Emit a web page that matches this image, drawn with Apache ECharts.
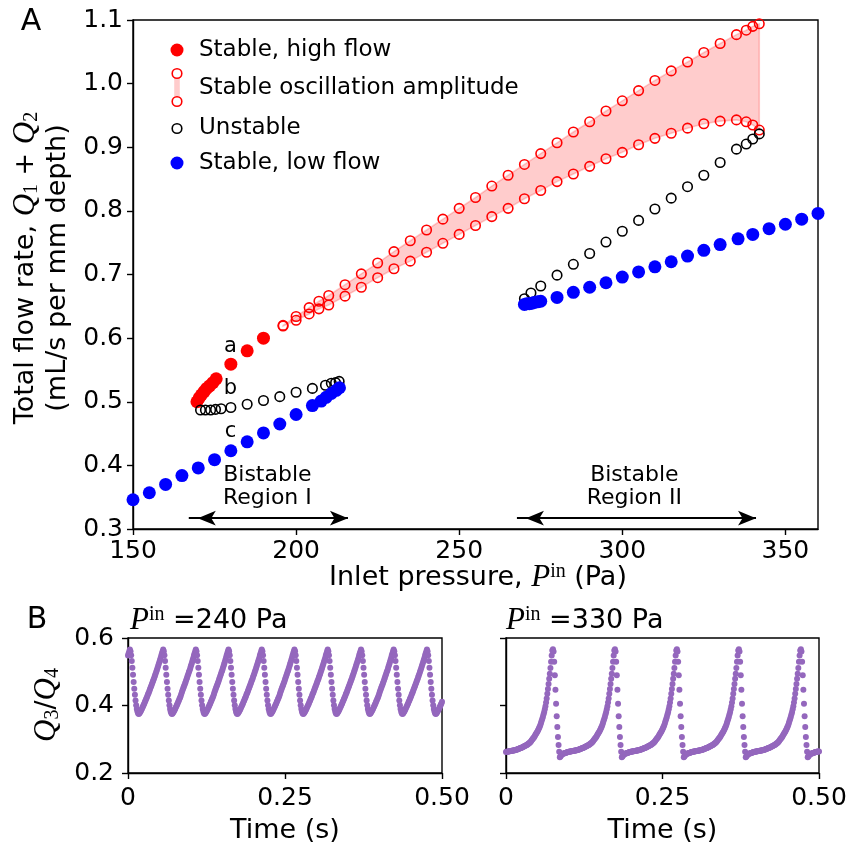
<!DOCTYPE html>
<html>
<head>
<meta charset="utf-8">
<script src="https://cdn.jsdelivr.net/npm/echarts@6/dist/echarts.min.js"></script>
<style>
  html, body { margin: 0; padding: 0; background: #fff; }
  #chart { width: 850px; height: 848px; }
</style>
</head>
<body>
<div id="chart"></div>
<script>
// ---------- Panel A: total flow rate vs inlet pressure ----------
// Stable, high flow (filled red)
const highFlowP = [169.6, 170.3, 171.0, 171.8, 172.6, 173.5, 174.5, 175.5, 180, 185, 190];
const highFlowQ = [0.500, 0.506, 0.511, 0.516, 0.521, 0.525, 0.530, 0.536, 0.559, 0.580, 0.600];

// Stable oscillation amplitude (open red, upper and lower branch)
const oscP     = [196, 200, 204, 207, 210, 215, 220, 225, 230, 235, 240, 245, 250, 255, 260, 265, 270, 275, 280, 285, 290, 295, 300, 305, 310, 315, 320, 325, 330, 335, 338, 340, 342];
const oscUpper = [0.620, 0.634, 0.648, 0.658, 0.667, 0.684, 0.701, 0.718, 0.736, 0.753, 0.770, 0.787, 0.804, 0.821, 0.839, 0.856, 0.873, 0.890, 0.907, 0.924, 0.940, 0.957, 0.973, 0.989, 1.005, 1.020, 1.034, 1.049, 1.063, 1.077, 1.084, 1.090, 1.094];
const oscLower = [0.619, 0.628, 0.638, 0.646, 0.652, 0.666, 0.680, 0.695, 0.709, 0.721, 0.735, 0.749, 0.763, 0.777, 0.791, 0.804, 0.819, 0.832, 0.846, 0.858, 0.870, 0.882, 0.892, 0.904, 0.914, 0.922, 0.930, 0.937, 0.941, 0.943, 0.940, 0.935, 0.927];

// Unstable (open black)
const unstableP = [170.7, 172.2, 173.8, 175.3, 177.0, 180, 185, 190, 195, 200, 205, 209, 210.8, 212.1, 213.2,
                   270, 272, 275, 280, 285, 290, 295, 300, 305, 310, 315, 320, 325, 330, 335, 338, 340, 342];
const unstableQ = [0.487, 0.487, 0.487, 0.488, 0.489, 0.491, 0.496, 0.502, 0.508, 0.515, 0.521, 0.526, 0.529, 0.530, 0.532,
                   0.662, 0.671, 0.682, 0.699, 0.716, 0.733, 0.751, 0.768, 0.785, 0.803, 0.820, 0.838, 0.856, 0.876, 0.897, 0.905, 0.913, 0.921];

// Stable, low flow (filled blue)
const lowFlowP = [150, 155, 160, 165, 170, 175, 180, 185, 190, 195, 200, 205, 207.7, 209.2, 210.8, 212.3, 213.3,
                  270, 270.7, 271.5, 272.3, 273, 274, 275, 280, 285, 290, 295, 300, 305, 310, 315, 320, 325, 330, 335.5, 340, 345, 350, 355, 360];
const lowFlowQ = [0.346, 0.357, 0.370, 0.384, 0.396, 0.409, 0.423, 0.437, 0.451, 0.465, 0.480, 0.494, 0.501, 0.507, 0.513, 0.518, 0.522,
                  0.653, 0.654, 0.654, 0.655, 0.656, 0.657, 0.658, 0.664, 0.672, 0.680, 0.687, 0.696, 0.704, 0.712, 0.720, 0.729, 0.738, 0.747, 0.756, 0.763, 0.772, 0.779, 0.787, 0.796];

// Point annotations a / b / c
const pointTags = ['a', 'b', 'c'];
const pointTagP = [179.9, 179.9, 179.9];
const pointTagQ = [0.586, 0.520, 0.453];

// Bistable regions: text and arrow extent
const regionNames = ['Bistable\nRegion I', 'Bistable\nRegion II'];
const regionTextP = [191.2, 303.7];
const regionTextQ = [0.366, 0.366];
const regionFrom  = [167.1, 267.7];
const regionTo    = [215.9, 341.0];
const regionArrowQ = 0.317;

const xTicksA = [150, 200, 250, 300, 350];
const yTicksA = [0.3, 0.4, 0.5, 0.6, 0.7, 0.8, 0.9, 1.0, 1.1];

// ---------- Panel B: Q3/Q4 time traces, one sample per millisecond ----------
const sampleStep = 0.001;
const ratio240 = [
  0.548,0.554,0.560,
  0.566,0.561,0.549,0.532,0.512,0.491,0.470,0.450,0.432,0.415,0.401,0.390,0.382,0.377,0.375,0.376,0.379,0.382,0.386,0.390,0.394,0.398,0.402,0.406,0.411,0.415,0.420,0.424,0.429,0.434,0.438,0.443,0.448,0.453,0.458,0.463,0.468,0.473,0.478,0.484,0.489,0.494,0.500,0.505,0.511,0.517,0.523,0.529,0.535,0.541,0.548,0.554,0.560,
  0.566,0.561,0.549,0.532,0.512,0.491,0.470,0.450,0.432,0.415,0.401,0.390,0.382,0.377,0.375,0.376,0.379,0.382,0.386,0.390,0.394,0.398,0.402,0.406,0.411,0.415,0.420,0.424,0.429,0.435,0.441,0.446,0.451,0.456,0.461,0.466,0.471,0.477,0.482,0.488,0.493,0.499,0.504,0.510,0.516,0.522,0.528,0.535,0.541,0.548,0.554,0.560,
  0.566,0.561,0.549,0.532,0.512,0.491,0.470,0.450,0.432,0.415,0.401,0.390,0.382,0.377,0.375,0.376,0.379,0.382,0.386,0.390,0.394,0.398,0.402,0.406,0.411,0.415,0.420,0.424,0.429,0.435,0.441,0.446,0.451,0.456,0.461,0.466,0.471,0.477,0.482,0.488,0.493,0.499,0.504,0.510,0.516,0.522,0.528,0.535,0.541,0.548,0.554,0.560,
  0.566,0.561,0.549,0.532,0.512,0.491,0.470,0.450,0.432,0.415,0.401,0.390,0.382,0.377,0.375,0.376,0.379,0.382,0.386,0.390,0.394,0.398,0.402,0.406,0.411,0.415,0.420,0.424,0.429,0.434,0.438,0.443,0.448,0.453,0.458,0.463,0.468,0.473,0.478,0.484,0.489,0.494,0.500,0.505,0.511,0.517,0.523,0.529,0.535,0.541,0.548,0.554,0.560,
  0.566,0.561,0.549,0.532,0.512,0.491,0.470,0.450,0.432,0.415,0.401,0.390,0.382,0.377,0.375,0.376,0.379,0.382,0.386,0.390,0.394,0.398,0.402,0.406,0.411,0.415,0.420,0.424,0.429,0.435,0.441,0.446,0.451,0.456,0.461,0.466,0.471,0.477,0.482,0.488,0.493,0.499,0.504,0.510,0.516,0.522,0.528,0.535,0.541,0.548,0.554,0.560,
  0.566,0.561,0.549,0.532,0.512,0.491,0.470,0.450,0.432,0.415,0.401,0.390,0.382,0.377,0.375,0.376,0.379,0.382,0.386,0.390,0.394,0.398,0.402,0.406,0.411,0.415,0.420,0.424,0.429,0.434,0.438,0.443,0.448,0.453,0.458,0.463,0.468,0.473,0.478,0.484,0.489,0.494,0.500,0.505,0.511,0.517,0.523,0.529,0.535,0.541,0.548,0.554,0.560,
  0.566,0.561,0.549,0.532,0.512,0.491,0.470,0.450,0.432,0.415,0.401,0.390,0.382,0.377,0.375,0.376,0.379,0.382,0.386,0.390,0.394,0.398,0.402,0.406,0.411,0.415,0.420,0.424,0.429,0.434,0.438,0.443,0.448,0.453,0.458,0.463,0.468,0.473,0.478,0.484,0.489,0.494,0.500,0.505,0.511,0.517,0.523,0.529,0.535,0.541,0.548,0.554,0.560,
  0.566,0.561,0.549,0.532,0.512,0.491,0.470,0.450,0.432,0.415,0.401,0.390,0.382,0.377,0.375,0.376,0.379,0.382,0.386,0.390,0.394,0.398,0.402,0.406,0.411,0.415,0.420,0.424,0.429,0.435,0.441,0.446,0.451,0.456,0.461,0.466,0.471,0.477,0.482,0.488,0.493,0.499,0.504,0.510,0.516,0.522,0.528,0.535,0.541,0.548,0.554,0.560,
  0.566,0.561,0.549,0.532,0.512,0.491,0.470,0.450,0.432,0.415,0.401,0.390,0.382,0.377,0.375,0.376,0.379,0.382,0.386,0.390,0.394,0.398,0.402,0.406,0.411,0.415,0.420,0.424,0.429,0.434,0.438,0.443,0.448,0.453,0.458,0.463,0.468,0.473,0.478,0.484,0.489,0.494,0.500,0.505,0.511,0.517,0.523,0.529,0.535,0.541,0.548,0.554,0.560,
  0.566,0.561,0.549,0.532,0.512,0.491,0.470,0.450,0.432,0.415,0.401,0.390,0.382,0.377,0.375,0.376,0.379,0.382,0.386,0.390,0.394,0.398,0.402,0.406,0.411
];
const ratio330 = [
  0.262,0.263,0.263,0.264,0.264,0.264,0.265,
  0.265,0.265,0.266,0.266,0.267,0.267,0.267,0.268,0.268,0.269,0.269,0.270,0.271,0.271,0.272,0.273,0.274,0.274,0.275,0.276,
  0.277,0.278,0.279,0.280,0.281,0.282,0.283,0.284,0.286,0.287,0.289,0.290,0.292,0.294,0.297,0.299,0.302,0.304,0.307,0.310,
  0.313,0.316,0.319,0.322,0.326,0.330,0.334,0.338,0.343,0.349,0.355,0.361,0.367,0.374,0.381,0.389,0.398,0.409,0.421,0.435,
  0.449,0.464,0.479,0.494,0.511,0.530,0.548,0.563,0.567,0.560,0.530,0.490,0.447,0.405,0.368,0.336,0.307,0.283,0.263,
  0.247,0.249,0.252,0.254,0.256,0.257,0.258,0.258,0.259,0.259,0.260,0.261,0.262,0.262,0.263,0.263,0.264,0.264,0.264,0.265,
  0.265,0.265,0.266,0.266,0.267,0.267,0.267,0.268,0.268,0.269,0.269,0.270,0.271,0.271,0.272,0.273,0.274,0.274,0.275,0.276,
  0.277,0.278,0.279,0.280,0.281,0.282,0.283,0.284,0.286,0.287,0.289,0.290,0.292,0.294,0.297,0.299,0.302,0.304,0.307,0.310,
  0.313,0.316,0.319,0.322,0.326,0.330,0.334,0.338,0.343,0.349,0.355,0.361,0.367,0.374,0.381,0.389,0.398,0.409,0.421,0.435,
  0.449,0.464,0.479,0.494,0.511,0.530,0.548,0.563,0.567,0.560,0.530,0.490,0.447,0.405,0.368,0.336,0.307,0.283,0.263,
  0.247,0.249,0.252,0.254,0.256,0.257,0.258,0.258,0.259,0.259,0.260,0.261,0.262,0.262,0.263,0.263,0.264,0.264,0.264,0.265,
  0.265,0.265,0.266,0.266,0.267,0.267,0.267,0.268,0.268,0.269,0.269,0.270,0.271,0.271,0.272,0.273,0.274,0.274,0.275,0.276,
  0.277,0.278,0.279,0.280,0.281,0.282,0.283,0.284,0.286,0.287,0.289,0.290,0.292,0.294,0.297,0.299,0.302,0.304,0.307,0.310,
  0.313,0.316,0.319,0.322,0.326,0.330,0.334,0.338,0.343,0.349,0.355,0.361,0.367,0.374,0.381,0.389,0.398,0.409,0.421,0.435,
  0.449,0.464,0.479,0.494,0.511,0.530,0.548,0.563,0.567,0.560,0.530,0.490,0.447,0.405,0.368,0.336,0.307,0.283,0.263,
  0.247,0.249,0.252,0.254,0.256,0.257,0.258,0.258,0.259,0.259,0.260,0.261,0.262,0.262,0.263,0.263,0.264,0.264,0.264,0.265,
  0.265,0.265,0.266,0.266,0.267,0.267,0.267,0.268,0.268,0.269,0.269,0.270,0.271,0.271,0.272,0.273,0.274,0.274,0.275,0.276,
  0.277,0.278,0.279,0.280,0.281,0.282,0.283,0.284,0.286,0.287,0.289,0.290,0.292,0.294,0.297,0.299,0.302,0.304,0.307,0.310,
  0.313,0.316,0.319,0.322,0.326,0.330,0.334,0.338,0.343,0.349,0.355,0.361,0.367,0.374,0.381,0.389,0.398,0.409,0.421,0.435,
  0.449,0.464,0.479,0.494,0.511,0.530,0.548,0.563,0.567,0.560,0.530,0.490,0.447,0.405,0.368,0.336,0.307,0.283,0.263,
  0.247,0.249,0.252,0.254,0.256,0.257,0.258,0.258,0.259,0.259,0.260,0.261,0.262,0.262,0.263,0.263,0.264,0.264,0.264,0.265,
  0.265,0.265,0.266,0.266,0.267,0.267,0.267,0.268,0.268,0.269,0.269,0.270,0.271,0.271,0.272,0.273,0.274,0.274,0.275,0.276,
  0.277,0.278,0.279,0.280,0.281,0.282,0.283,0.284,0.286,0.287,0.289,0.290,0.292,0.294,0.297,0.299,0.302,0.304,0.307,0.310,
  0.313,0.316,0.319,0.322,0.326,0.330,0.334,0.338,0.343,0.349,0.355,0.361,0.367,0.374,0.381,0.389,0.398,0.409,0.421,0.435,
  0.449,0.464,0.479,0.494,0.511,0.530,0.548,0.563,0.567,0.560,0.530,0.490,0.447,0.405,0.368,0.336,0.307,0.283,0.263,
  0.247,0.249,0.252,0.254,0.256,0.257,0.258,0.258,0.259,0.259,0.260,0.261,0.262,0.262,0.263,0.263,0.264,0.264,0.264
];
const xTicksB = [0, 0.25, 0.5];
const yTicksB = [0.2, 0.4, 0.6];
const panelBTitles = ['240 Pa', '330 Pa'];

// ---------- styling helpers ----------
const SANS = 'DejaVu Sans';
const SERIF = 'Liberation Serif';
const RED = '#ff0000';
const BLUE = '#0000ff';
const PURPLE = '#9467bd';
const FILL = 'rgba(255,0,0,0.2)';

const pairs = (xs, ys) => xs.map((x, i) => [x, ys[i]]);
const timeTrace = vals => vals.map((v, i) => [i * sampleStep, v]);

function valueAxis(gridIndex, min, max, ticks, fmt, labelMargin, showLabels) {
  return {
    type: 'value', gridIndex, min, max,
    axisLine: { show: true, onZero: false, lineStyle: { color: '#000', width: 1.4 } },
    axisTick: { show: true, length: 6, customValues: ticks, lineStyle: { color: '#000', width: 1.4 } },
    axisLabel: {
      show: showLabels !== false, customValues: ticks, formatter: fmt, margin: labelMargin,
      color: '#000', fontFamily: SANS, fontSize: 25
    },
    splitLine: { show: false }
  };
}
const gridBox = { show: true, borderColor: '#000', borderWidth: 1.4, backgroundColor: 'transparent' };

const chart = echarts.init(document.getElementById('chart'), null, { renderer: 'canvas' });

const mathRich = {
  it:  { fontFamily: SERIF, fontStyle: 'italic', fontSize: 31, lineHeight: 32, color: '#000' },
  sup: { fontFamily: SERIF, fontSize: 20, lineHeight: 19, verticalAlign: 'top', color: '#000' },
  sub: { fontFamily: SERIF, fontSize: 20, lineHeight: 19, verticalAlign: 'bottom', color: '#000' },
  n:   { fontFamily: SANS, fontSize: 27, lineHeight: 32, color: '#000' }
};

const legendItems = [
  { type: 'circle', shape: { cx: 177, cy: 50, r: 6.5 }, style: { fill: RED } },
  { type: 'rect', shape: { x: 174.2, y: 73.5, width: 5.6, height: 28 }, style: { fill: FILL } },
  { type: 'circle', shape: { cx: 177, cy: 73.5, r: 4.8 }, style: { fill: '#fff', stroke: RED, lineWidth: 1.6 } },
  { type: 'circle', shape: { cx: 177, cy: 101.5, r: 4.8 }, style: { fill: '#fff', stroke: RED, lineWidth: 1.6 } },
  { type: 'circle', shape: { cx: 177, cy: 128.5, r: 4.8 }, style: { fill: 'none', stroke: '#000', lineWidth: 1.6 } },
  { type: 'circle', shape: { cx: 177, cy: 163, r: 6.5 }, style: { fill: BLUE } },
  ...[['Stable, high flow', 50], ['Stable oscillation amplitude', 88], ['Unstable', 128.5], ['Stable, low flow', 163]]
    .map(([t, y]) => ({ type: 'text', x: 199, y, style: { text: t, fontFamily: SANS, fontSize: 23, fill: '#000', align: 'left', verticalAlign: 'middle' } }))
];

const textItems = [
  { type: 'text', x: 31, y: 22, style: { text: 'A', fontFamily: SANS, fontSize: 30, fill: '#000', align: 'center', verticalAlign: 'middle' } },
  { type: 'text', x: 37, y: 620, style: { text: 'B', fontFamily: SANS, fontSize: 30, fill: '#000', align: 'center', verticalAlign: 'middle' } },
  { type: 'text', x: 478, y: 578, style: {
      text: '{n|Inlet pressure, }{it|P}{sup|in}{n| (Pa)}', rich: mathRich,
      align: 'center', verticalAlign: 'middle' } },
  { type: 'text', x: 42, y: 268, rotation: Math.PI / 2, style: {
      text: '{n|Total flow rate, }{it|Q}{sub|1}{n| + }{it|Q}{sub|2}\n{n|(mL/s per mm depth)}', rich: mathRich,
      align: 'center', verticalAlign: 'middle' } },
  { type: 'text', x: 47, y: 705, rotation: Math.PI / 2, style: {
      text: '{it|Q}{sub|3}{n|/}{it|Q}{sub|4}', rich: mathRich,
      align: 'center', verticalAlign: 'middle' } },
  { type: 'text', x: 130, y: 621, style: {
      text: '{it|P}{sup|in}{n| =' + panelBTitles[0] + '}', rich: mathRich, align: 'left', verticalAlign: 'middle' } },
  { type: 'text', x: 506, y: 621, style: {
      text: '{it|P}{sup|in}{n| =' + panelBTitles[1] + '}', rich: mathRich, align: 'left', verticalAlign: 'middle' } },
  { type: 'text', x: 285, y: 831, style: { text: 'Time (s)', fontFamily: SANS, fontSize: 27, fill: '#000', align: 'center', verticalAlign: 'middle' } },
  { type: 'text', x: 662.5, y: 831, style: { text: 'Time (s)', fontFamily: SANS, fontSize: 27, fill: '#000', align: 'center', verticalAlign: 'middle' } }
];

const option = {
  animation: false,
  backgroundColor: '#fff',
  grid: [
    Object.assign({ left: 133, top: 20, width: 685, height: 509 }, gridBox),
    Object.assign({ left: 128, top: 638, width: 314, height: 135 }, gridBox),
    Object.assign({ left: 506, top: 638, width: 313, height: 135 }, gridBox)
  ],
  xAxis: [
    valueAxis(0, 150, 360, xTicksA, v => String(v), 10),
    valueAxis(1, 0, 0.5, xTicksB, v => (v === 0 ? '0' : v.toFixed(2)), 13),
    valueAxis(2, 0, 0.5, xTicksB, v => (v === 0 ? '0' : v.toFixed(2)), 13)
  ],
  yAxis: [
    valueAxis(0, 0.3, 1.1, yTicksA, v => v.toFixed(1), 10),
    valueAxis(1, 0.2, 0.6, yTicksB, v => v.toFixed(1), 14),
    valueAxis(2, 0.2, 0.6, yTicksB, v => v.toFixed(1), 14, false)
  ],
  graphic: legendItems.concat(textItems),
  series: [
    // shaded band between upper and lower oscillation branches
    {
      type: 'custom', xAxisIndex: 0, yAxisIndex: 0, silent: true, clip: true, z: 1,
      data: [[oscP[0], oscUpper[0]]],
      renderItem: (params, api) => {
        const pts = oscP.map((p, i) => api.coord([p, oscUpper[i]]));
        for (let i = oscP.length - 1; i >= 0; i--) pts.push(api.coord([oscP[i], oscLower[i]]));
        return { type: 'polygon', shape: { points: pts }, style: { fill: FILL, stroke: FILL, lineWidth: 1.6 } };
      }
    },
    {
      name: 'Stable, high flow', type: 'scatter', xAxisIndex: 0, yAxisIndex: 0, silent: true, z: 2,
      data: pairs(highFlowP, highFlowQ), symbolSize: 13, itemStyle: { color: RED, opacity: 1 }
    },
    {
      name: 'Stable oscillation amplitude', type: 'scatter', xAxisIndex: 0, yAxisIndex: 0, silent: true, z: 3,
      data: pairs(oscP, oscUpper).concat(pairs(oscP, oscLower)), symbolSize: 9.5,
      itemStyle: { color: 'rgba(0,0,0,0)', borderColor: RED, borderWidth: 1.6, opacity: 1 }
    },
    {
      name: 'Unstable', type: 'scatter', xAxisIndex: 0, yAxisIndex: 0, silent: true, z: 4,
      data: pairs(unstableP, unstableQ), symbolSize: 9.5,
      itemStyle: { color: 'rgba(0,0,0,0)', borderColor: '#000', borderWidth: 1.6, opacity: 1 }
    },
    {
      name: 'Stable, low flow', type: 'scatter', xAxisIndex: 0, yAxisIndex: 0, silent: true, z: 5,
      data: pairs(lowFlowP, lowFlowQ), symbolSize: 13, itemStyle: { color: BLUE, opacity: 1 }
    },
    // a / b / c tags
    {
      type: 'scatter', xAxisIndex: 0, yAxisIndex: 0, silent: true, z: 6,
      data: pointTags.map((t, i) => ({ value: [pointTagP[i], pointTagQ[i]], label: { formatter: t } })),
      symbolSize: 1, itemStyle: { color: 'rgba(0,0,0,0)', opacity: 1 },
      label: { show: true, position: 'inside', color: '#000', fontFamily: SANS, fontSize: 21 }
    },
    // bistable region captions and double arrows
    {
      type: 'scatter', xAxisIndex: 0, yAxisIndex: 0, silent: true, z: 6,
      data: regionNames.map((t, i) => ({ value: [regionTextP[i], regionTextQ[i]], label: { formatter: t } })),
      symbolSize: 1, itemStyle: { color: 'rgba(0,0,0,0)', opacity: 1 },
      label: { show: true, position: 'inside', color: '#000', fontFamily: SANS, fontSize: 22, lineHeight: 22.5, align: 'center' },
      markLine: {
        silent: true, animation: false,
        symbol: ['arrow', 'arrow'], symbolSize: [11, 18], symbolOffset: [[0, 9], [0, 0]],
        label: { show: false },
        lineStyle: { color: '#000', width: 2, type: 'solid', opacity: 1 },
        emphasis: { disabled: true },
        data: regionFrom.map((a, i) => [{ coord: [a, regionArrowQ] }, { coord: [regionTo[i], regionArrowQ] }])
      }
    },
    {
      type: 'scatter', xAxisIndex: 1, yAxisIndex: 1, silent: true,
      data: timeTrace(ratio240), symbolSize: 6, itemStyle: { color: PURPLE, opacity: 1 }
    },
    {
      type: 'scatter', xAxisIndex: 2, yAxisIndex: 2, silent: true,
      data: timeTrace(ratio330), symbolSize: 6, itemStyle: { color: PURPLE, opacity: 1 }
    }
  ]
};
chart.setOption(option);
</script>
</body>
</html>
